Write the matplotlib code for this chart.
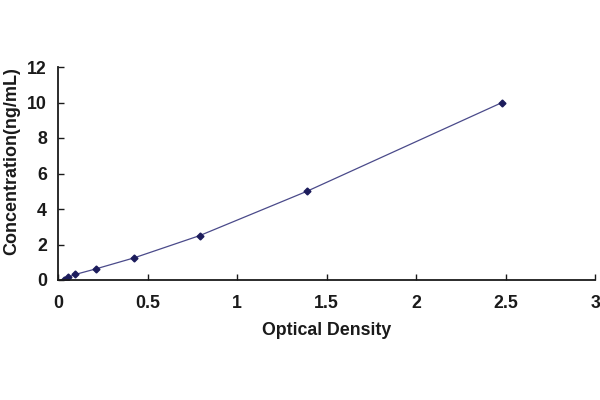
import matplotlib.pyplot as plt

# standard curve points
od = [0.03, 0.055, 0.095, 0.21, 0.425, 0.79, 1.39, 2.48]
conc = [0.0, 0.156, 0.312, 0.625, 1.25, 2.5, 5.0, 10.0]

x_ticks = [0, 0.5, 1, 1.5, 2, 2.5, 3]
x_labels = ["0", "0.5", "1", "1.5", "2", "2.5", "3"]
y_ticks = [0, 2, 4, 6, 8, 10, 12]

plt.rcParams['font.family'] = ['Liberation Sans', 'DejaVu Sans']
plt.rcParams['font.weight'] = 'bold'

fig = plt.figure(figsize=(6, 4), dpi=100)
ax = fig.add_axes([0.097, 0.30, 0.895, 0.5325])

ax.plot(od, conc, color='#4a4a8a', linewidth=0.9,
        marker='D', markersize=3.5, markerfacecolor='#1c1c5c',
        markeredgecolor='#1c1c5c')

ax.set_xlim(0, 3)
ax.set_ylim(0, 12)
ax.set_xticks(x_ticks)
ax.set_xticklabels(x_labels)
ax.set_yticks(y_ticks)
ax.tick_params(direction='in', length=4, width=1, labelsize=12.8, colors='#1a1a1a')
ax.tick_params(axis='x', pad=11)
ax.tick_params(axis='y', pad=8)

for side in ['top', 'right']:
    ax.spines[side].set_visible(False)
for side in ['left', 'bottom']:
    ax.spines[side].set_linewidth(1.3)
    ax.spines[side].set_color('#1a1a1a')

ax.set_xlabel("Optical Density", fontsize=12.8, fontweight='bold', color='#1a1a1a', labelpad=7)
ax.set_ylabel("Concentration(ng/mL)", fontsize=13, fontweight='bold', color='#1a1a1a')
ax.yaxis.set_label_coords(-0.071, 0.56)

fig.savefig("out.png", dpi=100)
